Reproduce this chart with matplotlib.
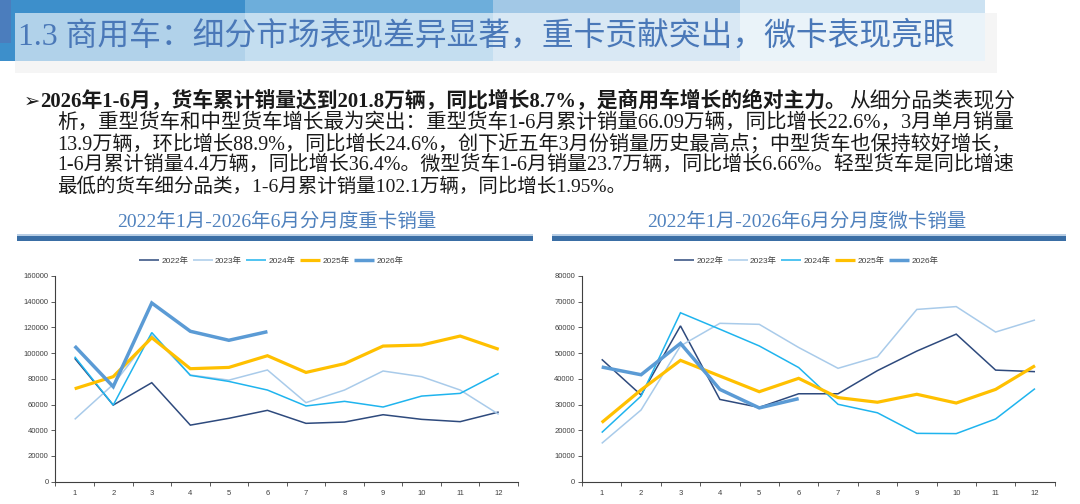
"""Slide: commercial vehicle segment sales, heavy vs micro truck monthly lines."""
import matplotlib

matplotlib.use("Agg")
import matplotlib.pyplot as plt
from matplotlib.patches import Rectangle
from matplotlib.ticker import FixedLocator, MultipleLocator

W, H = 1080, 504

MONTHS = list(range(1, 13))
YEARS = ["2022年", "2023年", "2024年", "2025年", "2026年"]

# heavy truck monthly sales
HEAVY_2022 = [96000, 59600, 77000, 44000, 49300, 55500, 45400, 46400, 52100, 48500, 46700, 54200]
HEAVY_2023 = [48500, 75700, 114000, 83000, 79000, 86900, 61500, 71300, 86100, 81700, 71300, 52400]
HEAVY_2024 = [97200, 59600, 116000, 82700, 78000, 71300, 58900, 62500, 58100, 66600, 68700, 84300]
HEAVY_2025 = [72300, 81700, 112000, 87900, 88900, 98000, 85000, 91800, 105500, 106300, 113300, 103000]
HEAVY_2026 = [105500, 73900, 139000, 117000, 110000, 116700]

# micro truck monthly sales
MICRO_2022 = [47600, 33700, 60600, 32000, 28900, 34200, 34200, 43200, 50800, 57400, 43400, 42800]
MICRO_2023 = [14900, 27900, 52800, 61600, 61200, 52200, 44100, 48600, 67000, 68100, 58200, 62900]
MICRO_2024 = [19100, 33300, 65700, 59300, 52800, 44400, 30100, 26800, 18800, 18700, 24400, 36200]
MICRO_2025 = [23000, 35700, 47200, 41100, 35000, 40200, 32700, 30900, 34000, 30600, 35900, 45100]
MICRO_2026 = [44600, 41600, 53800, 35900, 28700, 32300]

TITLE = "1.3 商用车：细分市场表现差异显著，重卡贡献突出，微卡表现亮眼"
BODY = [
    [("2026年1-6月，货车累计销量达到201.8万辆，同比增长8.7%，是商用车增长的绝对主力。", "bold"),
     ("从细分品类表现分", "normal")],
    [("析，重型货车和中型货车增长最为突出：重型货车1-6月累计销量66.09万辆，同比增长22.6%，3月单月销量", "normal")],
    [("13.9万辆，环比增长88.9%，同比增长24.6%，创下近五年3月份销量历史最高点；中型货车也保持较好增长，", "normal")],
    [("1-6月累计销量4.4万辆，同比增长36.4%。微型货车1-6月销量23.7万辆，同比增长6.66%。轻型货车是同比增速", "normal")],
    [("最低的货车细分品类，1-6月累计销量102.1万辆，同比增长1.95%。", "normal")],
]
CHART_TITLES = ["2022年1月-2026年6月分月度重卡销量", "2022年1月-2026年6月分月度微卡销量"]

COLORS = ["#2E4A7D", "#A9CBEA", "#1FB4EE", "#FFC000", "#5B9BD5"]
WIDTHS = [1.1, 1.1, 1.1, 2.3, 2.5]

SERIF = ["Liberation Serif", "Noto Sans CJK SC"]


def fx(x):
    return x / W


def fy(y):
    return 1 - y / H


def rect(fig, x0, y0, x1, y1, **kw):
    fig.patches.append(Rectangle((fx(x0), fy(y1)), (x1 - x0) / W, (y1 - y0) / H,
                                 transform=fig.transFigure, linewidth=0, **kw))


def fitted_line(fig, renderer, parts, x0, x1, y, size, fit=True):
    texts = [fig.text(0, 0, s, fontsize=size, fontweight=wt, family=SERIF,
                      color="#1A1A1A", ha="left", va="center") for s, wt in parts]
    widths = [t.get_window_extent(renderer).width for t in texts]
    scale = (x1 - x0) / sum(widths) if fit else 1.0
    x = x0
    for t, w in zip(texts, widths):
        t.set_fontsize(size * scale)
        t.set_position((fx(x), fy(y)))
        x += w * scale


def draw_chart(fig, rect_px, series, ymax, ystep, legend_cx):
    x0, x1 = rect_px
    ax = fig.add_axes([fx(x0), fy(481.7), (x1 - x0) / W, (481.7 - 276) / H])
    for label, vals, c, lw in zip(YEARS, series, COLORS, WIDTHS):
        ax.plot(MONTHS[:len(vals)], vals, color=c, lw=lw, label=label,
                solid_capstyle="butt", solid_joinstyle="miter")
    ax.set_xlim(0.5, 12.5)
    ax.set_ylim(0, ymax)
    ax.yaxis.set_major_locator(MultipleLocator(ystep))
    ax.xaxis.set_major_locator(FixedLocator(MONTHS))
    ax.xaxis.set_minor_locator(FixedLocator([m + 0.5 for m in range(0, 13)]))
    ax.tick_params(axis="x", which="major", length=0, pad=6, labelsize=5.5, labelcolor="#404040")
    ax.tick_params(axis="x", which="minor", length=3, width=0.6, color="#404040", direction="out")
    ax.tick_params(axis="y", length=3, width=0.6, color="#404040", pad=2,
                   labelsize=5.5, labelcolor="#404040")
    for side in ("top", "right"):
        ax.spines[side].set_visible(False)
    for side in ("left", "bottom"):
        ax.spines[side].set_color("#404040")
        ax.spines[side].set_linewidth(0.8)
    handles, labels = ax.get_legend_handles_labels()
    fig.legend(handles, labels, loc="center", bbox_to_anchor=(fx(legend_cx), fy(261)),
               ncol=5, frameon=False, handlelength=2.4, handletextpad=0.3,
               columnspacing=0.5, labelcolor="#404040",
               prop={"family": ["Liberation Sans", "Noto Sans CJK SC"], "size": 6})
    return ax


def main():
    plt.rcParams["font.family"] = ["Liberation Sans", "Noto Sans CJK SC", "DejaVu Sans"]
    fig = plt.figure(figsize=(W / 100, H / 100), dpi=100)
    fig.patch.set_facecolor("white")
    renderer = fig.canvas.get_renderer()

    # title banner
    rect(fig, 15, 13, 997, 73, facecolor="#F5F5F5")
    for (a, b), c in zip([(0, 245), (245, 493), (493, 740), (740, 985)],
                         ["#3D8FCB", "#6DAEDB", "#A2C8E6", "#CCE2F2"]):
        rect(fig, a, 0, b, 61, facecolor=c)
    rect(fig, 0, 0, 11, 43, facecolor="#4B7DBD")
    rect(fig, 15, 13, 985, 61, facecolor="white", alpha=0.6)
    t = fig.text(fx(18), fy(36), TITLE, fontsize=20, family=SERIF, color="#4A78B8",
                 ha="left", va="center")
    tw = t.get_window_extent(renderer).width
    t.set_fontsize(20 * (955 - 18) / tw)

    # bullet text
    fig.text(fx(24), fy(101), "➢", fontsize=14, family="DejaVu Sans", color="#1A1A1A",
             ha="left", va="center")
    for i, parts in enumerate(BODY):
        x0 = 40 if i == 0 else 57
        last = i == len(BODY) - 1
        fitted_line(fig, renderer, parts, x0, 1016, 102 + 21.2 * i, 14, fit=not last)

    # chart titles and bars
    for cx, (a, b), txt in zip([277, 807], [(17, 533), (552, 1066)], CHART_TITLES):
        fig.text(fx(cx), fy(222), txt, fontsize=14, family=SERIF, color="#4F81BD",
                 ha="center", va="center")
        rect(fig, a, 234, b, 236, facecolor="#B7CDE4")
        rect(fig, a, 236, b, 241, facecolor="#3A6EA5")

    draw_chart(fig, (55.4, 518), [HEAVY_2022, HEAVY_2023, HEAVY_2024, HEAVY_2025, HEAVY_2026],
               160000, 20000, 271)
    draw_chart(fig, (582, 1054.7), [MICRO_2022, MICRO_2023, MICRO_2024, MICRO_2025, MICRO_2026],
               80000, 10000, 806)

    fig.savefig("out.png", dpi=100)
    plt.close(fig)


if __name__ == "__main__":
    main()
